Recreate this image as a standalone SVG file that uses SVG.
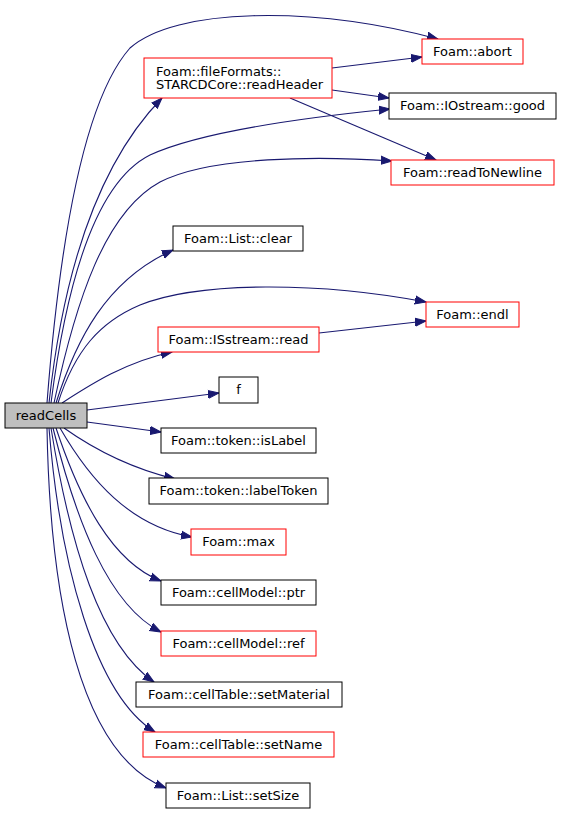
<svg xmlns="http://www.w3.org/2000/svg" width="561" height="814" viewBox="0 0 561 814">
<style>
.n rect{fill:#fff;stroke:#000;stroke-width:1}
.n.r rect{stroke:#ff0000}
.n.cur rect{fill:#bfbfbf}
.n text{font-family:"DejaVu Sans","Liberation Sans",sans-serif;font-size:13px;fill:#000;text-anchor:middle}
.n text.l{text-anchor:start}
#edges path{fill:none;stroke:#191970;stroke-width:1.1;marker-end:url(#ah)}
</style>
<defs>
<marker id="ah" markerUnits="userSpaceOnUse" markerWidth="12" markerHeight="10" viewBox="0 -5 12 10" refX="11" refY="0" orient="auto">
<path d="M0,-4 L11,0 L0,4 Z" fill="#191970" stroke="#191970" stroke-width="1"/>
</marker>
</defs>
<rect width="561" height="814" fill="#fff"/>
<g id="edges">
<path d="M47,403 C55,300 75,110 130,48 C175,8 310,5 438,39"/>
<path d="M49,403 C58,320 82,180 162,98"/>
<path d="M51,403 C68,270 100,180 150,155 C200,132 300,118 390,109"/>
<path d="M54,403 C76,300 105,212 160,182 C210,156 320,156 392,161"/>
<path d="M56,403 C76,340 106,280 173,250"/>
<path d="M58,403 C75,350 100,322 140,305 C200,281 320,282 426,302"/>
<path d="M62,403 C90,385 125,362 172,352"/>
<path d="M87,410 L219,393"/>
<path d="M87,422 L161,432"/>
<path d="M64,428 C95,450 130,468 175,479"/>
<path d="M60,428 C90,480 130,526 192,537"/>
<path d="M56,428 C80,500 112,562 161,581"/>
<path d="M53,428 C76,520 108,605 161,632"/>
<path d="M51,428 C70,545 100,645 154,682"/>
<path d="M49,428 C60,565 95,695 155,732"/>
<path d="M47,428 C50,600 80,755 166,788"/>
<path d="M332,68 L422,57"/>
<path d="M332,90 L389,98"/>
<path d="M290,98 L436,160"/>
<path d="M319,333 L426,321"/>
</g>
<g id="readCells" class="n cur"><rect x="5" y="403" width="82" height="25"/><text x="46" y="419.5">readCells</text></g>
<g id="abort" class="n r"><rect x="422" y="39" width="101" height="25"/><text x="472.5" y="55.5">Foam::abort</text></g>
<g id="readHeader" class="n r"><rect x="144" y="58" width="188" height="40"/><text class="l" x="156" y="75.5">Foam::fileFormats::</text><text class="l" x="156" y="89">STARCDCore::readHeader</text></g>
<g id="good" class="n"><rect x="389" y="93" width="167" height="26"/><text x="472.5" y="110">Foam::IOstream::good</text></g>
<g id="readToNewline" class="n r"><rect x="391" y="160" width="163" height="25"/><text x="472.5" y="176.5">Foam::readToNewline</text></g>
<g id="clear" class="n"><rect x="173" y="226" width="130" height="25"/><text x="238" y="242.5">Foam::List::clear</text></g>
<g id="endl" class="n r"><rect x="426" y="302" width="93" height="25"/><text x="472.5" y="318.5">Foam::endl</text></g>
<g id="ISstreamRead" class="n r"><rect x="158" y="327" width="161" height="25"/><text x="238.5" y="343.5">Foam::ISstream::read</text></g>
<g id="f" class="n"><rect x="219" y="377" width="39" height="26"/><text x="238.5" y="394">f</text></g>
<g id="isLabel" class="n"><rect x="161" y="428" width="155" height="25"/><text x="238.5" y="444.5">Foam::token::isLabel</text></g>
<g id="labelToken" class="n"><rect x="149" y="478" width="179" height="26"/><text x="238.5" y="495">Foam::token::labelToken</text></g>
<g id="max" class="n r"><rect x="191" y="529" width="95" height="26"/><text x="238.5" y="546">Foam::max</text></g>
<g id="ptr" class="n"><rect x="161" y="580" width="155" height="25"/><text x="238.5" y="596.5">Foam::cellModel::ptr</text></g>
<g id="ref" class="n r"><rect x="161" y="631" width="155" height="25"/><text x="238.5" y="647.5">Foam::cellModel::ref</text></g>
<g id="setMaterial" class="n"><rect x="136" y="682" width="206" height="25"/><text x="239" y="698.5">Foam::cellTable::setMaterial</text></g>
<g id="setName" class="n r"><rect x="143" y="732" width="191" height="25"/><text x="238.5" y="748.5">Foam::cellTable::setName</text></g>
<g id="setSize" class="n"><rect x="166" y="783" width="144" height="25"/><text x="238" y="799.5">Foam::List::setSize</text></g>
</svg>
